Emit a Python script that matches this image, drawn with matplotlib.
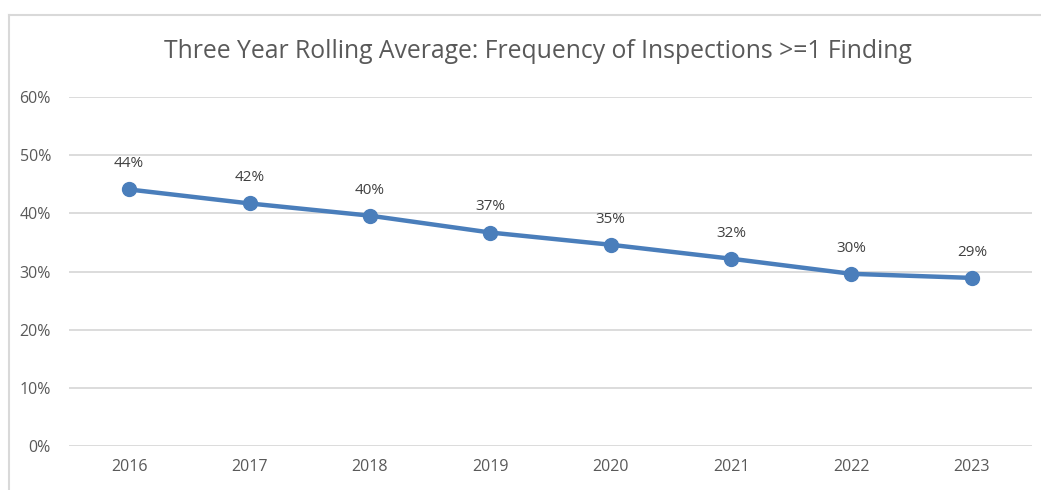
import matplotlib
matplotlib.use("Agg")
import matplotlib.pyplot as plt
from matplotlib.lines import Line2D

years = ["2016", "2017", "2018", "2019", "2020", "2021", "2022", "2023"]
values = [0.441, 0.417, 0.396, 0.367, 0.346, 0.322, 0.296, 0.289]
y_ticks = [0.0, 0.1, 0.2, 0.3, 0.4, 0.5, 0.6]

W, H = 1041, 490
fig = plt.figure(figsize=(W / 100, H / 100), dpi=100)
plt.rcParams['font.family'] = ['Open Sans', 'DejaVu Sans']

# axes: plot area from x=69..1032, y 60%=97 .. 0%=446
left, right = 69 / W, 1032 / W
top, bottom = 97 / H, 446 / H
ax = fig.add_axes([left, 1 - bottom, right - left, bottom - top])

x = list(range(len(years)))
ax.plot(x, values, color="#4A7EBB", linewidth=3.2, marker="o", markersize=10,
        solid_capstyle="round", zorder=3)
for xi, v in zip(x, values):
    ax.annotate(f"{round(v * 100):.0f}%", (xi, v), xytext=(0, 13),
                textcoords="offset points", ha="center", va="bottom",
                fontsize=11, color="#404040")

ax.set_xlim(-0.5, len(years) - 0.5)
ax.set_ylim(0, 0.6)
ax.set_yticks(y_ticks)
ax.set_yticklabels([f"{int(round(t * 100))}%" for t in y_ticks])
ax.set_xticks(x)
ax.set_xticklabels(years)
ax.tick_params(axis="both", length=0, labelsize=11.5, colors="#595959")
ax.tick_params(axis="y", pad=13)
ax.tick_params(axis="x", pad=9)
ax.grid(axis="y", color="#D9D9D9", linewidth=1.3)
ax.set_axisbelow(True)
for s in ax.spines.values():
    s.set_visible(False)

fig.text(538 / W, 1 - 52 / H, "Three Year Rolling Average: Frequency of Inspections >=1 Finding",
         ha="center", va="center", fontsize=17.8, color="#595959")

# outer chart border (top and left visible)
fig.add_artist(Line2D([9 / W, 1.0], [1 - 15 / H, 1 - 15 / H], color="#D9D9D9", linewidth=1.5,
                      transform=fig.transFigure))
fig.add_artist(Line2D([9 / W, 9 / W], [1 - 15 / H, 0.0], color="#D9D9D9", linewidth=1.5,
                      transform=fig.transFigure))

fig.savefig("out.png", dpi=100, facecolor="white")
